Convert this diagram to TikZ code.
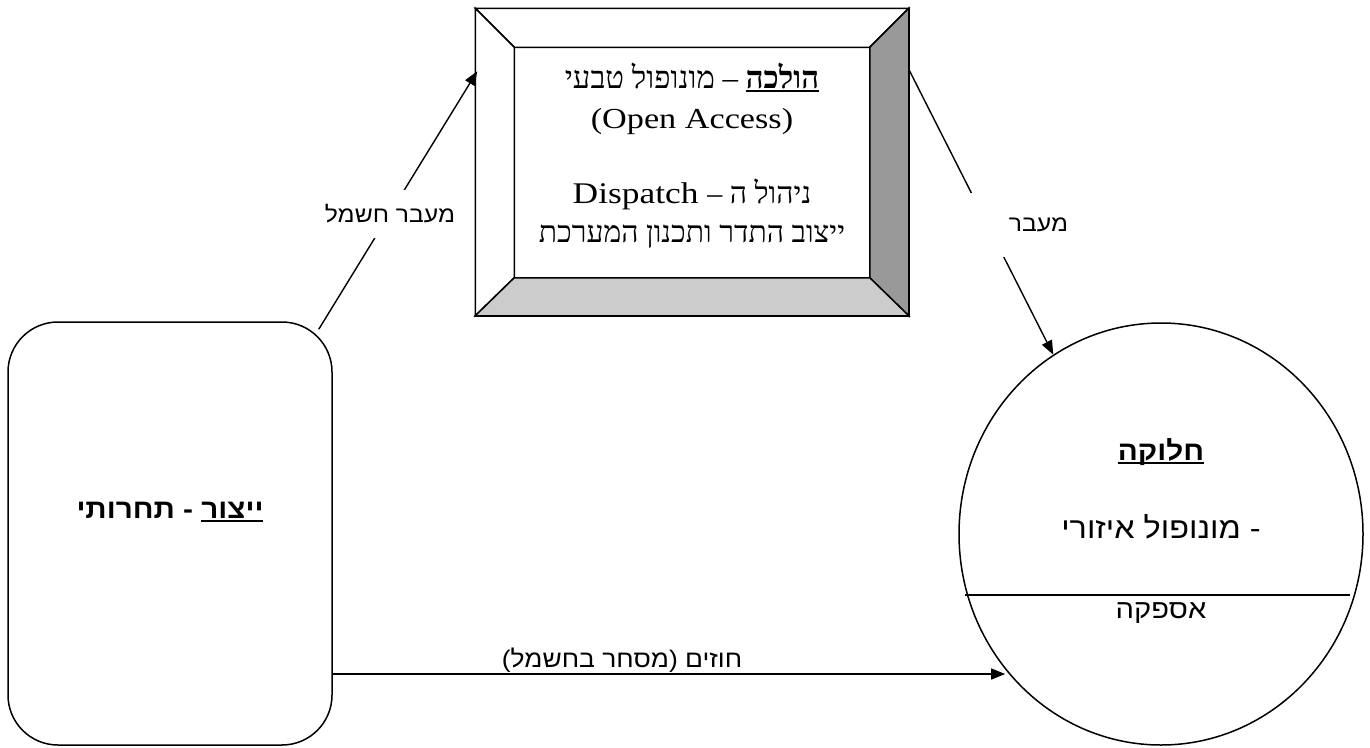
\documentclass[tikz,border=0pt]{standalone}
\usepackage{fontspec}
\usetikzlibrary{shapes.geometric,arrows.meta,calc}
\TeXXeTstate=1
\setmainfont{Liberation Serif}[FakeStretch=1.18]
\newfontfamily\hser{Liberation Serif}[Script=Hebrew]
\newfontfamily\hsans{Liberation Sans}[Script=Hebrew,FakeStretch=1.1]
\newcommand\ulin[1]{\setbox0\hbox{#1}\hbox{\rlap{\rule[-4pt]{\wd0}{1.6pt}}\box0}}
\definecolor{darkface}{HTML}{999999}
\definecolor{lightface}{HTML}{CCCCCC}
\begin{document}
\begin{tikzpicture}[x=1pt,y=-1pt,
  shape line/.style={draw=black,line width=1.5pt},
  arr/.style={draw=black,line width=1.4pt,-{Triangle[length=14pt,width=11pt]}},
  boxtext/.style={anchor=base,inner sep=0pt,font=\fontsize{29}{34}\selectfont},
  sanstext/.style={anchor=base,inner sep=0pt,font=\hsans\fontsize{27}{32}\selectfont},
  lbl/.style={fill=white,inner sep=0pt,font=\hsans\fontsize{22.5}{26}\selectfont}]
\useasboundingbox (0,0) rectangle (1370,747);
\fill[white] (0,0) rectangle (1370,747);

% transmission bevel box
\node[shape line,fill=white,rectangle,minimum width=432pt,minimum height=306pt,inner sep=0pt] (trans) at (692,162) {};
\coordinate (iNW) at ($(trans.north west)+(39,39)$);
\coordinate (iNE) at ($(trans.north east)+(-39,39)$);
\coordinate (iSW) at ($(trans.south west)+(39,-38)$);
\coordinate (iSE) at ($(trans.south east)+(-39,-38)$);
\filldraw[shape line,fill=white] (trans.north west) -- (trans.north east) -- (iNE) -- (iNW) -- cycle;
\filldraw[shape line,fill=white] (trans.north west) -- (iNW) -- (iSW) -- (trans.south west) -- cycle;
\filldraw[shape line,fill=darkface] (trans.north east) -- (trans.south east) -- (iSE) -- (iNE) -- cycle;
\filldraw[shape line,fill=lightface] (trans.south west) -- (iSW) -- (iSE) -- (trans.south east) -- cycle;
\draw[shape line] (trans.north west) rectangle (trans.south east);

\node[boxtext,font=\hser\fontsize{31}{36}\selectfont] (t1) at (692,88) {\beginR\ulin{\textbf{הולכה}} – מונופול טבעי\endR};
\node[boxtext] (t2) at (692,128) {(Open Access)};
\node[boxtext,font=\fontsize{30}{35}\selectfont] (t3) at (692,203) {\beginR{\hser ניהול ה –} \beginL Dispatch\endL\endR};
\node[boxtext,font=\hser\fontsize{30}{35}\selectfont] (t4) at (692,242) {\beginR ייצוב התדר ותכנון המערכת\endR};

% production rounded box
\node[shape line,rectangle,rounded corners=50pt,minimum width=324pt,minimum height=423pt,inner sep=0pt] (prod) at (170,533.5) {};
\node[sanstext] (prodtext) at (170,518) {\beginR\textbf{\ulin{ייצור} - תחרותי}\endR};

% distribution circle
\node[shape line,ellipse,minimum width=404pt,minimum height=422pt,inner sep=0pt] (dist) at (1161,534) {};
\draw[line width=1.4pt] ($(dist.center)+(-196,61)$) coordinate (sepL) -- ($(dist.center)+(189,61)$) coordinate (sepR);
\node[sanstext] (d1) at (1161,460) {\beginR\ulin{\textbf{חלוקה}}\endR};
\node[sanstext,font=\hsans\fontsize{29.5}{34}\selectfont] (d2) at (1161,538) {\beginR - מונופול איזורי\endR};
\node[sanstext,font=\hsans\fontsize{26.5}{31}\selectfont] (d3) at (1161,618) {\beginR אספקה\endR};

% connectors
\draw[arr] ($(prod.north east)+(-14,8)$) -- ($(trans.north west)+(2,63)$);
\draw[arr] ($(trans.north east)+(0,61)$) -- (dist.121);
\coordinate (bstart) at ($(prod.east)+(0,140.5)$);
\draw[arr] (bstart) -- (bstart -| dist.221.5);

% labels
\node[lbl,minimum height=48pt] (l1) at (390,214) {\beginR מעבר חשמל\endR};
\node[lbl,minimum height=64pt,text width=106pt,align=right] (l2) at (1015,225) {\beginR מעבר\endR};
\node[anchor=base,inner sep=0pt,font=\hsans\fontsize{24}{28}\selectfont] (l3) at (622,667) {\beginR חוזים (\kern0pt מסחר בחשמל\kern0pt)\endR};
\end{tikzpicture}
\end{document}
